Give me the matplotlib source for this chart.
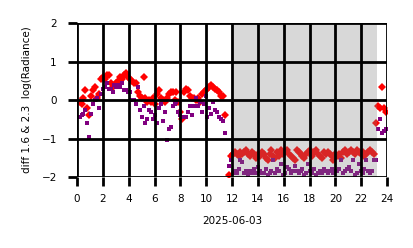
import numpy as np
import matplotlib
matplotlib.use("Agg")
from matplotlib import pyplot as plt

# hours of day, first block (clear part)
t_day = [0.2, 0.35, 0.5, 0.65, 0.8, 0.95, 1.1, 1.25, 1.4, 1.55, 1.7, 1.85, 2.0, 2.15, 2.3, 2.45,
         2.6, 2.75, 2.9, 3.05, 3.2, 3.35, 3.5, 3.65, 3.8, 3.95, 4.1, 4.25, 4.4, 4.55, 4.7, 4.85,
         5.0, 5.15, 5.3, 5.45, 5.6, 5.75, 5.9, 6.05, 6.2, 6.35, 6.5, 6.65, 6.8, 6.95, 7.1, 7.25,
         7.4, 7.55, 7.7, 7.85, 8.0, 8.15, 8.3, 8.45, 8.6, 8.75, 8.9, 9.05, 9.2, 9.35, 9.5, 9.65,
         9.8, 9.95, 10.1, 10.25, 10.4, 10.55, 10.7, 10.85, 11.0, 11.15, 11.3, 11.45]
red_day = [-0.05, -0.1, 0.05, 0.25, -0.2, -0.4, 0.1, 0.25, 0.35, 0.05, 0.15, 0.55, 0.6, 0.55, 0.65, 0.65,
           0.45, 0.35, 0.4, 0.45, 0.5, 0.6, 0.55, 0.65, 0.7, 0.6, 0.55, 0.5, 0.45, 0.45, 0.2, 0.1,
           0.05, 0.6, 0.05, -0.05, 0.0, -0.05, 0.05, -0.1, 0.15, 0.25, 0.05, 0.0, -0.05, 0.05, 0.15, 0.2,
           0.2, 0.0, 0.2, -0.05, -0.3, -0.5, 0.2, 0.3, 0.25, 0.1, 0.05, 0.05, 0.0, 0.05, -0.05, 0.15,
           0.2, 0.25, 0.3, 0.35, 0.4, 0.35, 0.3, 0.25, 0.2, 0.1, 0.1, -0.4]
purple_day = [-0.45, -0.4, -0.35, -0.25, -0.6, -0.95, -0.35, -0.1, 0.0, 0.05, -0.2, 0.15, 0.3, 0.35, 0.45, 0.3,
              0.3, 0.2, 0.4, 0.35, 0.4, 0.35, 0.45, 0.25, 0.25, 0.2, 0.2, 0.0, 0.0, -0.1, 0.35, -0.25,
              -0.45, -0.15, -0.6, -0.5, -0.25, -0.3, -0.5, -0.4, -0.6, -0.2, -0.1, -0.55, -0.3, -1.05, -0.75, -0.7,
              -0.15, -0.1, -0.05, -0.3, -0.4, -0.45, -0.45, -0.45, -0.3, -0.15, -0.4, -0.15, 0.05, -0.15, -0.05, -0.3,
              -0.1, 0.1, -0.45, -0.2, -0.35, -0.05, -0.25, -0.3, -0.45, -0.5, -0.55, -0.85]

# night block (shaded)
t_night = [11.75, 11.9, 12.05, 12.2, 12.35, 12.5, 12.65, 12.8, 12.95, 13.1, 13.25, 13.4, 13.55, 13.7,
           13.85, 14.0, 14.15, 14.3, 14.45, 14.6, 14.75, 14.9, 15.05, 15.2, 15.35, 15.5, 15.65, 15.8,
           15.95, 16.1, 16.25, 16.4, 16.55, 16.7, 16.85, 17.0, 17.15, 17.3, 17.45, 17.6, 17.75, 17.9,
           18.05, 18.2, 18.35, 18.5, 18.65, 18.8, 18.95, 19.1, 19.25, 19.4, 19.55, 19.7, 19.85, 20.0,
           20.15, 20.3, 20.45, 20.6, 20.75, 20.9, 21.05, 21.2, 21.35, 21.5, 21.65, 21.8, 21.95, 22.1,
           22.25, 22.4, 22.55, 22.7, 22.85, 23.0]
red_night = [-1.95, -1.45, -1.4, -1.35, -1.4, -1.45, -1.35, -1.4, -1.35, -1.3, -1.4, -1.45, -1.35, -1.4,
             -1.5, -1.4, -1.45, -1.35, -1.4, -1.5, -1.55, -1.4, -1.3, -1.45, -1.5, -1.35, -1.45, -1.3,
             -1.4, -1.35, -1.3, -1.4, -1.45, -1.5, -1.55, -1.3, -1.35, -1.4, -1.45, -1.5, -1.4, -1.35,
             -1.3, -1.45, -1.35, -1.3, -1.4, -1.45, -1.5, -1.35, -1.4, -1.35, -1.4, -1.45, -1.55, -1.4,
             -1.45, -1.4, -1.5, -1.35, -1.3, -1.4, -1.35, -1.3, -1.35, -1.4, -1.3, -1.35, -1.4, -1.35,
             -1.45, -1.4, -1.35, -1.3, -1.35, -1.4]
purple_night = [-1.7, -1.55, -1.9, -1.85, -1.9, -1.8, -1.55, -1.6, -1.9, -1.85, -1.95, -1.85, -1.9, -1.8,
                -1.9, -1.75, -1.85, -1.9, -1.9, -1.8, -1.95, -1.9, -1.85, -1.55, -1.9, -1.8, -1.85, -1.65,
                -1.95, -1.9, -1.75, -1.8, -1.9, -1.85, -1.7, -1.85, -1.9, -1.85, -1.8, -1.95, -1.9, -1.65,
                -1.85, -1.9, -1.8, -1.95, -1.9, -1.85, -1.9, -1.8, -1.85, -1.9, -1.85, -1.8, -1.9, -1.85,
                -1.85, -1.8, -1.55, -1.9, -1.85, -1.8, -1.75, -1.85, -1.55, -1.95, -1.9, -1.65, -1.85, -1.9,
                -1.8, -1.55, -1.85, -1.9, -1.85, -1.55]

# end of day block
t_end = [23.15, 23.3, 23.45, 23.6, 23.75, 23.9]
red_end = [-0.6, -0.15, -0.2, 0.35, -0.2, -0.3]
purple_end = [-1.55, -0.75, -0.5, -0.85, -0.8, -0.75]

night_start, night_end = 11.93, 23.2

fig, ax = plt.subplots(figsize=(4.14, 2.48), dpi=100)
fig.subplots_adjust(left=0.186, right=0.935, top=0.907, bottom=0.286)

t_all = t_day + t_night + t_end
ax.plot(t_all, red_day + red_night + red_end, 'D', color='red', markersize=3.6, markeredgewidth=0, zorder=2)
ax.plot(t_all, purple_day + purple_night + purple_end, 's', color='purple', markersize=2.9,
        markeredgewidth=0, zorder=2.1)

ax.axvspan(night_start, night_end, color='gray', alpha=0.3, lw=0, zorder=2.2)

ax.set_xlim(0, 24)
ax.set_ylim(-2, 2)
ax.set_xticks(np.arange(0, 25, 2))
ax.set_yticks([-2, -1, 0, 1, 2])
ax.set_yticklabels(['\u22122', '\u22121', '0', '1', '2'])
ax.set_axisbelow(False)
ax.grid(True, color='black', linewidth=2)
for s in ax.spines.values():
    s.set_visible(False)
ax.tick_params(axis='both', length=6.5, width=2, color='black', labelsize=7.5, pad=6)
ax.tick_params(axis='y', pad=8)
ax.set_xlabel('2025-06-03', fontsize=7.5, labelpad=8)
ax.set_ylabel('diff 1.6 & 2.3  log(Radiance)', fontsize=7.5, labelpad=7)

fig.savefig('out.png', dpi=100)
